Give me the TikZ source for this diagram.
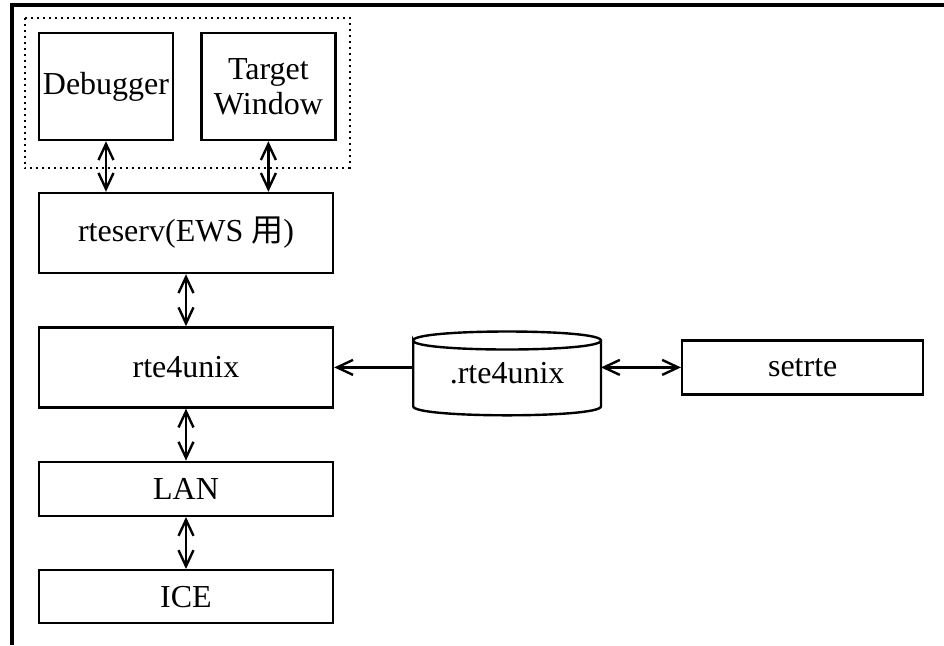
\documentclass[tikz,border=0pt]{standalone}
\usepackage{fontspec}
\setmainfont{Liberation Serif}
\newfontfamily\cjk{Noto Sans CJK JP}
\usetikzlibrary{positioning, calc, arrows.meta}

\tikzset{
	blk/.style={draw, line width=1.2pt, inner sep=0pt, align=center,
		minimum width=147pt, minimum height=40pt},
	win/.style={blk, minimum width=67pt, minimum height=53.5pt},
	grp/.style={line width=0.9pt, dash pattern=on 1pt off 2pt},
	link/.style={line width=1.2pt},
}

\begin{document}
\begin{tikzpicture}[x=0.5pt, y=-0.5pt,
	every node/.style={font=\fontsize{16}{17.5}\selectfont},
	>={Straight Barb[length=8pt, width=7.5pt, line width=1.2pt]}]
	\useasboundingbox (0,0) rectangle (944,645);

	\def\gap{26pt};

	% outer frame
	\draw[line width=2pt] (12,645) -- (12,5) -- (944,5);

	\node[win] (dbg) at (106,86.5) {Debugger};
	\node[win, right=13pt of dbg] (tw) {Target\\Window};
	\draw[grp] ($(dbg.north west)+(-13,-14)$) rectangle ($(tw.south east)+(13,27)$);

	\node[blk] (serv) at (186,233) {rteserv(EWS {\cjk 用})};
	\node[blk, below=\gap of serv] (rte) {rte4unix};
	\node[blk, below=\gap of rte, minimum height=27pt] (lan) {LAN};
	\node[blk, below=\gap of lan, minimum height=26.5pt] (ice) {ICE};

	% config file
	\node[minimum width=93.5pt, minimum height=32.5pt, inner sep=0pt,
		right=39.5pt of rte, yshift=-3pt] (cfg) {.rte4unix};
	\draw[link] (cfg.north west) .. controls +(0,-12) and +(0,-12) .. (cfg.north east)
		.. controls +(0,12) and +(0,12) .. (cfg.north west) -- (cfg.south west)
		.. controls +(0,12) and +(0,12) .. (cfg.south east) -- (cfg.north east);
	\node[blk, minimum width=120.5pt, minimum height=27pt,
		right=40pt of cfg.east |- rte.east, anchor=west] (set) {setrte};

	\draw[link, <->] (dbg.south) -- (dbg.south |- serv.north);
	\draw[link, <->] (tw.south) -- (tw.south |- serv.north);
	\draw[link, <->] (serv) -- (rte);
	\draw[link, <->] (rte) -- (lan);
	\draw[link, <->] (lan) -- (ice);
	\draw[link, ->] (cfg.west |- rte.east) -- (rte.east);
	\draw[link, <->] (cfg.east |- set.west) -- (set.west);
\end{tikzpicture}
\end{document}
